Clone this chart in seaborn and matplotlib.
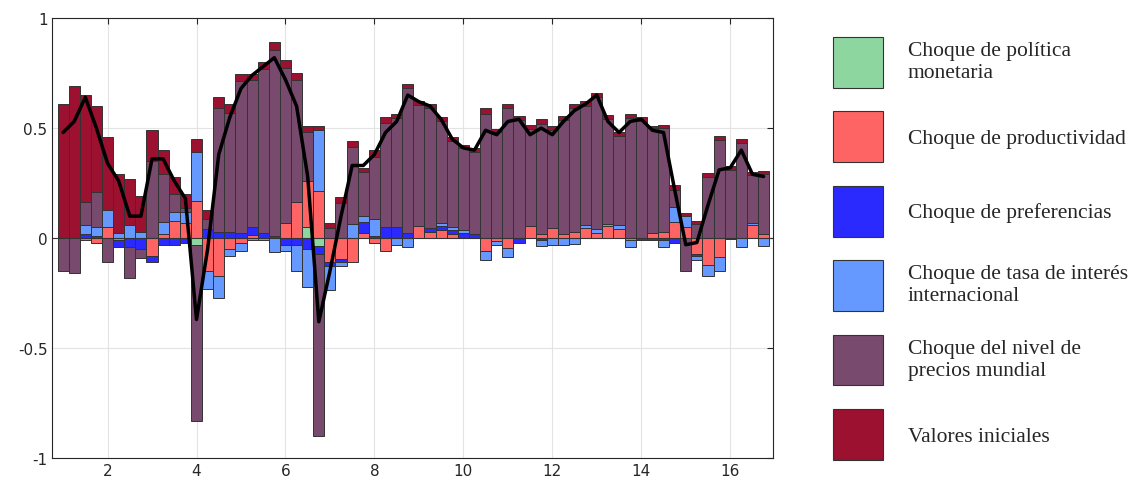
import numpy as np
import matplotlib
matplotlib.use("Agg")
import matplotlib.pyplot as plt
import seaborn as sns
from matplotlib.patches import Patch

sns.set_style("white")

x = np.arange(64) * 0.25 + 1.0

labels = ["Choque de política\nmonetaria", "Choque de productividad",
          "Choque de preferencias", "Choque de tasa de interés\ninternacional",
          "Choque del nivel de\nprecios mundial", "Valores iniciales"]
colors = ["#8ed6a0", "#ff6464", "#2a2aff", "#6699ff", "#774a6e", "#9c1030"]

green = [0] * 64
green[12] = -0.03
green[22] = 0.05
green[23] = -0.035

salmon = [0, 0, -0.01, -0.02, 0.05, -0.01, 0, 0, -0.08, 0.02, 0.08, 0.07,
          0.17, -0.15, -0.17, -0.05, -0.02, 0.015, 0, 0, 0.07, 0.165, 0.21, 0.215,
          -0.11, -0.095, -0.11, 0.025, -0.02, -0.06, 0, 0, 0.055, 0.03, 0.035, 0.02,
          0, 0, -0.06, -0.015, -0.045, 0, 0.055, 0.02, 0.045, 0.02, 0.03, 0.045,
          0.025, 0.055, 0.04, -0.01, 0, 0.025, 0.03, 0.075, 0.05, -0.07, -0.12, -0.085,
          0, 0, 0.06, 0.02]
blue = [0, 0, 0.02, 0.01, 0, -0.03, -0.04, -0.05, -0.03, -0.03, -0.03, -0.02,
        0, 0.04, 0.03, 0.03, 0.025, 0.035, 0.025, 0.008, -0.03, -0.03, -0.05, -0.035,
        -0.015, -0.015, 0, 0.05, 0.01, 0.05, 0.05, 0.025, 0, 0.015, 0.02, 0.015,
        0.025, 0.02, 0, 0, 0, -0.02, 0, -0.01, 0, 0, 0, 0,
        0, 0, 0, 0, -0.01, -0.01, -0.01, -0.02, 0, -0.01, 0, 0,
        -0.005, 0, 0, 0]
lblue = [0, 0, 0.04, 0.04, 0.08, 0.025, 0.06, 0.03, 0, 0.055, 0.04, 0.05,
         0.22, -0.08, -0.1, -0.03, -0.04, -0.01, -0.01, -0.065, -0.03, -0.12, -0.17, 0.275,
         -0.11, -0.015, 0.065, 0.025, 0.075, 0, -0.03, -0.04, 0, 0, 0.015, 0.015,
         0.01, 0, -0.04, -0.015, -0.04, 0, 0, -0.025, -0.03, -0.03, -0.025, 0.015,
         0.015, 0.01, 0.02, -0.03, 0, 0, -0.03, 0.065, 0.05, -0.02, -0.05, -0.065,
         0, -0.04, 0.01, -0.035]
purple = [-0.15, -0.16, 0.105, 0.16, -0.11, 0, -0.14, -0.04, 0.35, 0.215, 0.08, 0.015,
          -0.8, 0.045, 0.56, 0.54, 0.69, 0.67, 0.745, 0.847, 0.705, 0.555, 0.22, -0.83,
          0.045, 0.16, 0.35, 0.2, 0.285, 0.475, 0.495, 0.655, 0.55, 0.545, 0.46, 0.39,
          0.375, 0.37, 0.565, 0.48, 0.59, 0.535, 0.44, 0.5, 0.445, 0.515, 0.56, 0.54,
          0.6, 0.475, 0.405, 0.545, 0.53, 0.475, 0.47, 0.08, -0.15, 0.065, 0.28, 0.445,
          0.31, 0.43, 0.215, 0.27]
red = [0.61, 0.69, 0.485, 0.39, 0.33, 0.265, 0.21, 0.16, 0.14, 0.11, 0.08, 0.065,
       0.06, 0.045, 0.05, 0.04, 0.03, 0.025, 0.03, 0.035, 0.035, 0.03, 0.03, 0.02,
       0.025, 0.025, 0.025, 0.02, 0.03, 0.025, 0.02, 0.02, 0.02, 0.02, 0.02, 0.02,
       0.015, 0.02, 0.025, 0.015, 0.02, 0.02, 0.02, 0.02, 0.02, 0.02, 0.02, 0.025,
       0.02, 0.02, 0.015, 0.02, 0.02, 0.01, 0.015, 0.02, 0.015, 0.015, 0.015, 0.02,
       0.02, 0.02, 0.015, 0.015]

total = [0.48, 0.53, 0.64, 0.5, 0.34, 0.26, 0.1, 0.1, 0.36, 0.36, 0.26, 0.18,
         -0.37, -0.05, 0.38, 0.55, 0.68, 0.74, 0.78, 0.82, 0.72, 0.6, 0.28, -0.38,
         -0.15, 0.1, 0.33, 0.33, 0.38, 0.48, 0.53, 0.65, 0.62, 0.6, 0.54, 0.45,
         0.41, 0.4, 0.49, 0.47, 0.53, 0.54, 0.47, 0.5, 0.47, 0.53, 0.58, 0.61,
         0.65, 0.53, 0.48, 0.53, 0.54, 0.49, 0.48, 0.22, -0.03, -0.02, 0.15, 0.31,
         0.32, 0.4, 0.29, 0.28]

series = [green, salmon, blue, lblue, purple, red]

fig = plt.figure(figsize=(11.39, 4.89), dpi=100)
ax = fig.add_axes([0.046, 0.061, 0.633, 0.9])

pos = np.zeros(64)
neg = np.zeros(64)
for vals, col in zip(series, colors):
    v = np.array(vals, dtype=float)
    bottom = np.where(v >= 0, pos, neg)
    ax.bar(x, v, width=0.25, bottom=bottom, color=col, edgecolor="#333333",
           linewidth=0.7, zorder=2)
    pos += np.where(v >= 0, v, 0)
    neg += np.where(v < 0, v, 0)

ax.axhline(0, color="#333333", linewidth=0.8, zorder=2.5)
sns.lineplot(x=x, y=total, ax=ax, color="black", linewidth=2.5, zorder=3)

ax.set_xlim(0.76, 16.97)
ax.set_ylim(-1, 1)
ax.set_xticks(range(2, 17, 2))
ax.set_yticks([-1, -0.5, 0, 0.5, 1])
ax.set_yticklabels(["-1", "-0.5", "0", "0.5", "1"])
ax.grid(True, color="#e3e3e3", linewidth=0.8, zorder=0)
ax.set_axisbelow(True)
ax.tick_params(direction="in", top=True, right=True, labelsize=11,
               colors="#262626", length=4)
for s in ax.spines.values():
    s.set_color("#262626")
    s.set_linewidth(0.8)

handles = [Patch(facecolor=c, edgecolor="#333333", linewidth=0.8) for c in colors]
fig.legend(handles, labels, loc="center left", bbox_to_anchor=(0.714, 0.49),
           frameon=False, prop={"family": "Liberation Serif", "size": 15.5},
           handlelength=2.35, handleheight=3.25, labelspacing=1.1, handletextpad=1.15)

fig.savefig("out.png", dpi=100)
